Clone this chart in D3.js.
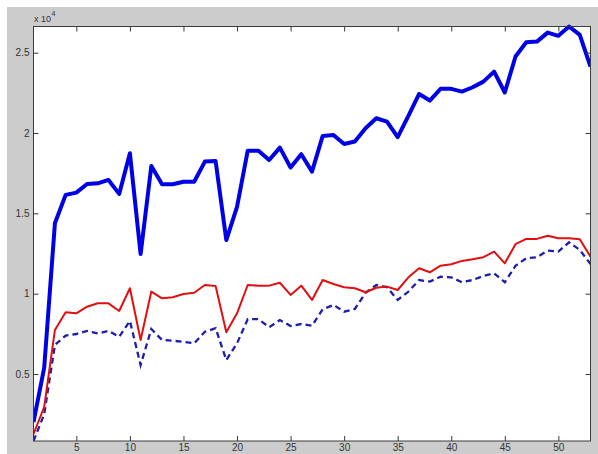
<!DOCTYPE html>
<html>
<head>
<meta charset="utf-8">
<script src="https://cdn.jsdelivr.net/npm/d3@7"></script>
<style>
  html, body { margin: 0; padding: 0; background: #ffffff; }
  svg { display: block; }
  text { font-family: "Liberation Sans", Arial, Helvetica, sans-serif; }
</style>
</head>
<body>
<div id="chart"></div>
<script>
// Sample index 1..53
const steps = d3.range(1, 54);

// Upper series (thick solid blue)
const seriesTotal = [
  2000, 5400, 14380, 16150, 16290, 16830, 16870, 17080, 16210, 18740,
  12470, 17950, 16810, 16810, 16970, 16970, 18220, 18260, 13340, 15400,
  18900, 18900, 18320, 19090, 17850, 18680, 17600, 19820, 19880, 19320,
  19470, 20300, 20920, 20710, 19740, 21070, 22430, 22020, 22750, 22750,
  22580, 22850, 23200, 23820, 22520, 24760, 25650, 25690, 26250, 26050,
  26630, 26110, 24130
];

// Middle series (solid red)
const seriesRed = [
  1250, 2950, 7740, 8840, 8780, 9190, 9400, 9400, 8920, 10340,
  7120, 10130, 9710, 9780, 9980, 10060, 10540, 10480, 7600, 8780,
  10540, 10500, 10500, 10680, 9920, 10500, 9610, 10850, 10600, 10400,
  10340, 10090, 10370, 10440, 10230, 11020, 11580, 11330, 11740, 11830,
  12040, 12140, 12270, 12620, 11890, 13080, 13410, 13410, 13610, 13450,
  13450, 13390, 12300
];

// Lower series (dashed blue)
const seriesDashed = [
  830, 2500, 6810, 7390, 7490, 7680, 7530, 7680, 7320, 8300,
  5560, 7800, 7120, 7070, 7010, 6910, 7630, 7850, 5870, 6910,
  8410, 8410, 7910, 8360, 7990, 8110, 8010, 9030, 9300, 8880,
  9050, 10060, 10540, 10400, 9610, 10130, 10850, 10750, 11060, 11020,
  10710, 10850, 11100, 11270, 10710, 11740, 12200, 12270, 12680, 12620,
  13200, 12720, 11850
];

const xTicks = [5, 10, 15, 20, 25, 30, 35, 40, 45, 50];
const yTicks = [5000, 10000, 15000, 20000, 25000];
const yTickLabels = ["0.5", "1", "1.5", "2", "2.5"];
const exponentBase = "x 10";
const exponentPower = "4";

const W = 598, H = 454;
const plot = { left: 33.5, right: 590.5, top: 26.5, bottom: 441 };

const svg = d3.select("#chart").append("svg")
  .attr("width", W).attr("height", H);

// figure background
svg.append("rect").attr("x", 0).attr("y", 0).attr("width", W).attr("height", H).attr("fill", "#ffffff");
svg.append("rect").attr("x", 7).attr("y", 7).attr("width", W - 7).attr("height", H - 7).attr("fill", "#cccccc");

// axes background
svg.append("rect")
  .attr("x", plot.left).attr("y", plot.top)
  .attr("width", plot.right - plot.left).attr("height", plot.bottom - plot.top)
  .attr("fill", "#ffffff");

const allValues = seriesTotal.concat(seriesRed, seriesDashed);
const x = d3.scaleLinear().domain([1, 53]).range([plot.left, plot.right]);
const y = d3.scaleLinear().domain(d3.extent(allValues)).range([plot.bottom, plot.top]);

const clip = svg.append("clipPath").attr("id", "plotclip")
  .append("rect")
  .attr("x", plot.left).attr("y", plot.top - 3)
  .attr("width", plot.right - plot.left).attr("height", plot.bottom - plot.top + 3);

const line = d3.line()
  .x((d, i) => x(steps[i]))
  .y(d => y(d));

const lines = svg.append("g").attr("clip-path", "url(#plotclip)");

lines.append("path")
  .datum(seriesDashed)
  .attr("d", line)
  .attr("fill", "none")
  .attr("stroke", "#1e1eaa")
  .attr("stroke-width", 2.3)
  .attr("stroke-dasharray", "6,4")
  .attr("stroke-linejoin", "miter");

lines.append("path")
  .datum(seriesRed)
  .attr("d", line)
  .attr("fill", "none")
  .attr("stroke", "#e01010")
  .attr("stroke-width", 2)
  .attr("stroke-linejoin", "round");

lines.append("path")
  .datum(seriesTotal)
  .attr("d", line)
  .attr("fill", "none")
  .attr("stroke", "#0000e6")
  .attr("stroke-width", 4)
  .attr("stroke-linejoin", "round");

// axes with inward ticks on all four sides
const tickColor = "#3a3a3a";
const tickLen = 5;

const gBottom = svg.append("g")
  .attr("transform", `translate(0,${plot.bottom})`)
  .call(d3.axisBottom(x).tickValues(xTicks).tickSizeInner(-tickLen).tickSizeOuter(0).tickPadding(4).tickFormat(d3.format("d")));
const gTop = svg.append("g")
  .attr("transform", `translate(0,${plot.top})`)
  .call(d3.axisTop(x).tickValues(xTicks).tickSizeInner(-tickLen).tickSizeOuter(0).tickFormat(""));
const gLeft = svg.append("g")
  .attr("transform", `translate(${plot.left},0)`)
  .call(d3.axisLeft(y).tickValues(yTicks).tickSizeInner(-tickLen).tickSizeOuter(0).tickPadding(4)
    .tickFormat((d, i) => yTickLabels[i]));
const gRight = svg.append("g")
  .attr("transform", `translate(${plot.right},0)`)
  .call(d3.axisRight(y).tickValues(yTicks).tickSizeInner(-tickLen).tickSizeOuter(0).tickFormat(""));

[gBottom, gTop, gLeft, gRight].forEach(g => {
  g.select(".domain").remove();
  g.selectAll(".tick line").attr("stroke", tickColor).attr("stroke-width", 1);
  g.selectAll(".tick text")
    .attr("fill", "#333333")
    .attr("font-size", 10)
    .attr("font-family", "'Liberation Sans', Arial, sans-serif");
});
gBottom.selectAll(".tick text").attr("dy", "0.55em");

// axes box
svg.append("rect")
  .attr("x", plot.left).attr("y", plot.top)
  .attr("width", plot.right - plot.left).attr("height", plot.bottom - plot.top)
  .attr("fill", "none")
  .attr("stroke", tickColor)
  .attr("stroke-width", 1);

// exponent label
const expo = svg.append("text")
  .attr("x", plot.left + 0.5).attr("y", 22)
  .attr("fill", "#333333")
  .attr("font-size", 9);
expo.append("tspan").text(exponentBase);
expo.append("tspan").attr("font-size", 7).attr("dy", -6).attr("dx", 0.5).text(exponentPower);
</script>
</body>
</html>
